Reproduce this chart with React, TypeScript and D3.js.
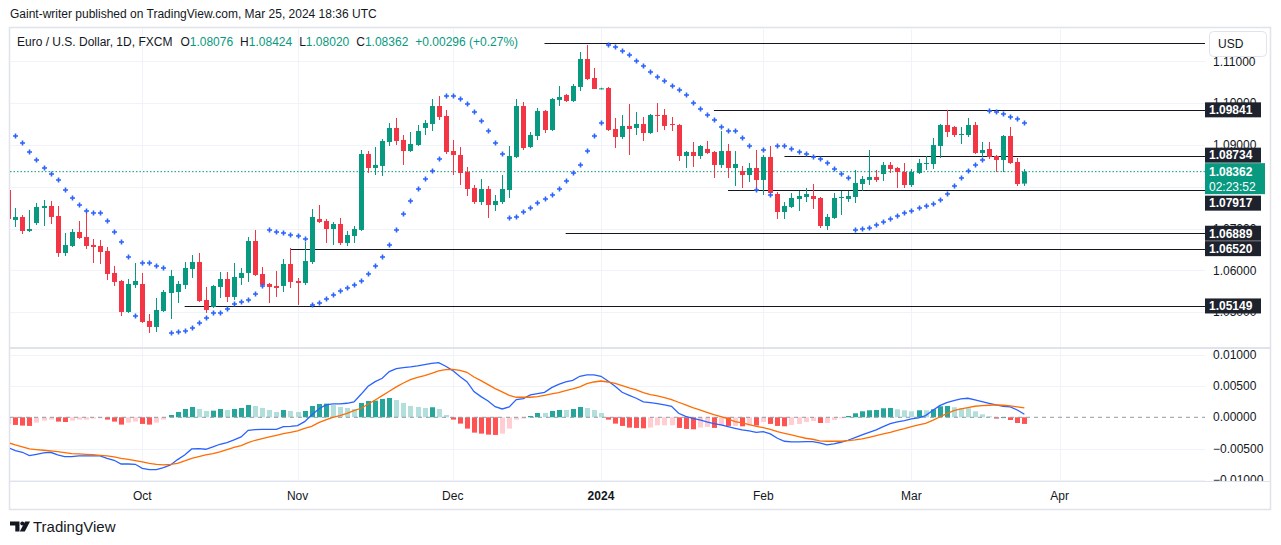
import * as d3 from "d3";

// EUR/USD daily bars from 5 Sep 2023 to 25 Mar 2024 (open, high, low, close)
const firstBarDate = "2023-09-05";
const ohlc: [number, number, number, number][] = [
  [1.07923, 1.07971, 1.07206, 1.0723],
  [1.07206, 1.07493, 1.07038, 1.07278],
  [1.07278, 1.07325, 1.06871, 1.06943],
  [1.06943, 1.07445, 1.06919, 1.0699],
  [1.07134, 1.07612, 1.07086, 1.07517],
  [1.07493, 1.07684, 1.07062, 1.07541],
  [1.07541, 1.0766, 1.0711, 1.07278],
  [1.07301, 1.07541, 1.06321, 1.06416],
  [1.06416, 1.06895, 1.06345, 1.06608],
  [1.06584, 1.0699, 1.0656, 1.06919],
  [1.06919, 1.07182, 1.06751, 1.06775],
  [1.06799, 1.07397, 1.06512, 1.06584],
  [1.06608, 1.06751, 1.06177, 1.0656],
  [1.06584, 1.06727, 1.06153, 1.0644],
  [1.06464, 1.0656, 1.0577, 1.05914],
  [1.05938, 1.06105, 1.05627, 1.05723],
  [1.05746, 1.0577, 1.04909, 1.05005],
  [1.05005, 1.05794, 1.04981, 1.05675],
  [1.05651, 1.06177, 1.05579, 1.05746],
  [1.05675, 1.05938, 1.04742, 1.04766],
  [1.0479, 1.04957, 1.04502, 1.04646],
  [1.04646, 1.0534, 1.04526, 1.05053],
  [1.05029, 1.05531, 1.05005, 1.05483],
  [1.05459, 1.0601, 1.04837, 1.05866],
  [1.05483, 1.05746, 1.0522, 1.05675],
  [1.05651, 1.06201, 1.05555, 1.06057],
  [1.06034, 1.06368, 1.05818, 1.06201],
  [1.06201, 1.06416, 1.05244, 1.05268],
  [1.05292, 1.05603, 1.04981, 1.05053],
  [1.05124, 1.05651, 1.05101, 1.05627],
  [1.05603, 1.05962, 1.0534, 1.05794],
  [1.05794, 1.05962, 1.05244, 1.05364],
  [1.05364, 1.06177, 1.05292, 1.05842],
  [1.05818, 1.06057, 1.05651, 1.05938],
  [1.05938, 1.06799, 1.05723, 1.06703],
  [1.06703, 1.06967, 1.05866, 1.0589],
  [1.05914, 1.06081, 1.05627, 1.05651],
  [1.05675, 1.05699, 1.0522, 1.05603],
  [1.05627, 1.05986, 1.05364, 1.05579],
  [1.05627, 1.06273, 1.05483, 1.06153],
  [1.06153, 1.06536, 1.05579, 1.05723],
  [1.05746, 1.05818, 1.05172, 1.05699],
  [1.05699, 1.06679, 1.05651, 1.06225],
  [1.06201, 1.07469, 1.06153, 1.07278],
  [1.0723, 1.07565, 1.07134, 1.07158],
  [1.07182, 1.0723, 1.06656, 1.0699],
  [1.0699, 1.07158, 1.06608, 1.0711],
  [1.0711, 1.07254, 1.06608, 1.06656],
  [1.06656, 1.06943, 1.06584, 1.06847],
  [1.06823, 1.07062, 1.06656, 1.0699],
  [1.06967, 1.0888, 1.06943, 1.08785],
  [1.08785, 1.08856, 1.0833, 1.0845],
  [1.0845, 1.08952, 1.08282, 1.08522],
  [1.08498, 1.09144, 1.08258, 1.09096],
  [1.09072, 1.09526, 1.08976, 1.09407],
  [1.09407, 1.09646, 1.09, 1.09096],
  [1.0912, 1.09239, 1.08522, 1.08856],
  [1.08856, 1.09311, 1.08833, 1.09024],
  [1.09, 1.09478, 1.08976, 1.09335],
  [1.09407, 1.09598, 1.09239, 1.09526],
  [1.09502, 1.101, 1.09335, 1.09933],
  [1.09933, 1.10172, 1.09598, 1.0967],
  [1.09694, 1.09838, 1.08785, 1.08833],
  [1.08856, 1.0912, 1.08282, 1.08761],
  [1.08761, 1.08952, 1.08043, 1.0833],
  [1.08354, 1.08474, 1.0778, 1.07947],
  [1.07971, 1.08043, 1.07589, 1.07636],
  [1.07636, 1.08187, 1.07565, 1.07947],
  [1.07947, 1.08019, 1.07254, 1.07565],
  [1.07565, 1.07804, 1.07421, 1.0766],
  [1.07636, 1.08282, 1.07589, 1.07947],
  [1.07923, 1.08976, 1.07732, 1.08737],
  [1.08713, 1.101, 1.08689, 1.09933],
  [1.09933, 1.10029, 1.0888, 1.08928],
  [1.08952, 1.09311, 1.08928, 1.09239],
  [1.09215, 1.09885, 1.0912, 1.09814],
  [1.09814, 1.09838, 1.09287, 1.09359],
  [1.09359, 1.10124, 1.09335, 1.101],
  [1.10077, 1.10411, 1.09933, 1.10148],
  [1.10196, 1.1022, 1.10029, 1.10053],
  [1.10053, 1.10459, 1.10029, 1.10411],
  [1.10388, 1.11225, 1.10292, 1.11057],
  [1.11057, 1.11392, 1.10555, 1.10579],
  [1.10603, 1.10842, 1.1034, 1.1034],
  [1.1034, 1.1037, 1.1033, 1.10355],
  [1.10364, 1.10388, 1.09335, 1.09359],
  [1.09383, 1.09646, 1.08928, 1.09191],
  [1.09191, 1.09718, 1.09144, 1.09455],
  [1.09455, 1.09981, 1.08761, 1.09383],
  [1.09407, 1.0979, 1.09239, 1.09502],
  [1.09502, 1.0967, 1.09096, 1.09287],
  [1.09287, 1.09742, 1.09263, 1.09718],
  [1.09718, 1.10005, 1.09311, 1.09694],
  [1.09718, 1.09861, 1.09359, 1.09455],
  [1.09502, 1.0967, 1.09335, 1.09478],
  [1.09478, 1.09502, 1.08617, 1.08737],
  [1.08737, 1.08856, 1.0845, 1.08833],
  [1.08833, 1.09072, 1.08474, 1.08737],
  [1.08737, 1.09, 1.08665, 1.08976],
  [1.08904, 1.09096, 1.08785, 1.08809],
  [1.08833, 1.08856, 1.08211, 1.08522],
  [1.08522, 1.09335, 1.0845, 1.08856],
  [1.08856, 1.09024, 1.08211, 1.0845],
  [1.0845, 1.08856, 1.08019, 1.08545],
  [1.08378, 1.08498, 1.07971, 1.08282],
  [1.08282, 1.08569, 1.08115, 1.0845],
  [1.0845, 1.0888, 1.079, 1.08163],
  [1.08163, 1.08761, 1.07804, 1.08713],
  [1.08713, 1.08976, 1.07804, 1.07852],
  [1.07828, 1.07876, 1.0723, 1.07397],
  [1.07397, 1.07636, 1.0723, 1.07541],
  [1.07517, 1.07852, 1.07493, 1.07732],
  [1.07708, 1.079, 1.07421, 1.0778],
  [1.07756, 1.07971, 1.07636, 1.07828],
  [1.0778, 1.08067, 1.07469, 1.07708],
  [1.07732, 1.07756, 1.07014, 1.07062],
  [1.07062, 1.07349, 1.06967, 1.07278],
  [1.07254, 1.07852, 1.0723, 1.07732],
  [1.07732, 1.079, 1.07325, 1.07756],
  [1.07708, 1.079, 1.07636, 1.0778],
  [1.07756, 1.08402, 1.07612, 1.08091],
  [1.08067, 1.08258, 1.079, 1.08187],
  [1.08163, 1.0888, 1.08043, 1.08234],
  [1.08234, 1.08402, 1.08115, 1.08163],
  [1.08306, 1.08593, 1.08139, 1.08522],
  [1.08522, 1.08593, 1.0833, 1.08426],
  [1.0845, 1.08474, 1.07971, 1.08354],
  [1.08354, 1.08569, 1.07971, 1.08043],
  [1.08043, 1.08426, 1.07995, 1.08354],
  [1.0833, 1.08665, 1.08306, 1.08569],
  [1.08545, 1.08737, 1.08402, 1.08569],
  [1.08545, 1.09167, 1.08426, 1.09],
  [1.08976, 1.09502, 1.08689, 1.09478],
  [1.09478, 1.09841, 1.09191, 1.09311],
  [1.09431, 1.09455, 1.09191, 1.09239],
  [1.09239, 1.09431, 1.09024, 1.09263],
  [1.09239, 1.09646, 1.09191, 1.09478],
  [1.09478, 1.0955, 1.08785, 1.08809],
  [1.08809, 1.09072, 1.08713, 1.0888],
  [1.08904, 1.09072, 1.08665, 1.08713],
  [1.08737, 1.08761, 1.08354, 1.08641],
  [1.08641, 1.09239, 1.08354, 1.09215],
  [1.09215, 1.09431, 1.08545, 1.08569],
  [1.08593, 1.08689, 1.08019, 1.08066],
  [1.08076, 1.08424, 1.0802, 1.08362],
];

// parabolic SAR dot for each bar
const sar: (number | null)[] = [
  null, 1.09215, 1.09048, 1.08833, 1.08641, 1.0845, 1.08306, 1.08163, 1.07923, 1.07732,
  1.07565, 1.07421, 1.07373, 1.07373, 1.07182, 1.06919, 1.06679, 1.06321, 1.04909, 1.06177,
  1.06177, 1.06105, 1.06057, 1.04502, 1.04526, 1.0455, 1.04622, 1.04742, 1.04861, 1.04981,
  1.04981, 1.05077, 1.05196, 1.05244, 1.05292, 1.05435, 1.05627, 1.06967, 1.06919, 1.06895,
  1.06847, 1.06823, 1.06751, 1.05172, 1.0522, 1.05316, 1.05412, 1.05507, 1.05579, 1.05651,
  1.05746, 1.05914, 1.06105, 1.06321, 1.06608, 1.06967, 1.07349, 1.0766, 1.07947, 1.08187,
  1.08378, 1.08665, 1.10172, 1.10172, 1.101, 1.09981, 1.0979, 1.09574, 1.09335, 1.09048,
  1.08785, 1.07254, 1.07278, 1.07397, 1.07493, 1.07612, 1.07708, 1.07804, 1.07947, 1.08139,
  1.0833, 1.08522, 1.08856, 1.09215, 1.09526, 1.11392, 1.11344, 1.11249, 1.11153, 1.1101,
  1.1089, 1.10746, 1.10627, 1.10531, 1.10411, 1.10316, 1.10196, 1.10005, 1.09861, 1.09718,
  1.09598, 1.09431, 1.09335, 1.09335, 1.09167, 1.08976, 1.07923, 1.0888, 1.07804, 1.08976,
  1.08976, 1.08904, 1.08833, 1.08785, 1.08713, 1.08665, 1.08569, 1.08426, 1.08306, 1.08211,
  1.06967, 1.0699, 1.07014, 1.07086, 1.07158, 1.0723, 1.07301, 1.07373, 1.07421, 1.07493,
  1.07541, 1.07589, 1.07684, 1.07828, 1.08019, 1.08211, 1.08378, 1.08522, 1.08641, 1.09814,
  1.0979, 1.09742, 1.0967, 1.09622, 1.09526,
];

// MACD (12, 26, 9)
const macdLine = [
  -0.00485, -0.00533, -0.00559, -0.00612, -0.00591, -0.0057, -0.00559, -0.00602, -0.00628, -0.00628,
  -0.00618, -0.00618, -0.00618, -0.00618, -0.00655, -0.00687, -0.00746, -0.00746, -0.00751, -0.00815,
  -0.00836, -0.00836, -0.00804, -0.00761, -0.00676, -0.00602, -0.00506, -0.00501, -0.00511, -0.00474,
  -0.00431, -0.00405, -0.00362, -0.00314, -0.00208, -0.00197, -0.00192, -0.00192, -0.00192, -0.00149,
  -0.00144, -0.00133, -0.00069, 0.00037, 0.00133, 0.00197, 0.00213, 0.00213, 0.00224, 0.00245,
  0.00367, 0.00495, 0.0057, 0.00623, 0.0073, 0.00777, 0.00793, 0.00804, 0.0082, 0.00841,
  0.00863, 0.00873, 0.00815, 0.00746, 0.0065, 0.0057, 0.0041, 0.0033, 0.00261, 0.0017,
  0.00133, 0.00165, 0.00282, 0.00298, 0.00357, 0.00378, 0.00399, 0.00474, 0.00527, 0.00564,
  0.00591, 0.00655, 0.00676, 0.00676, 0.00655, 0.0058, 0.00495, 0.00399, 0.00351, 0.00304,
  0.00245, 0.00234, 0.00218, 0.00197, 0.00176, 0.00064, 0.00016, -0.00016, -0.00043, -0.00075,
  -0.00101, -0.00122, -0.00149, -0.00176, -0.00202, -0.00218, -0.0024, -0.00229, -0.00266, -0.00335,
  -0.00383, -0.00394, -0.00394, -0.00389, -0.00389, -0.0041, -0.00442, -0.00426, -0.00399, -0.00367,
  -0.00325, -0.00282, -0.0024, -0.00202, -0.00149, -0.00101, -0.00075, -0.00053, -0.00027, -0.00011,
  0.00027, 0.00107, 0.00186, 0.00234, 0.00266, 0.00293, 0.00304, 0.00277, 0.0025, 0.00224,
  0.00197, 0.00176, 0.00165, 0.00117, 0.00048,
];
const signalLine = [
  -0.00405, -0.00442, -0.00474, -0.00506, -0.00517, -0.00527, -0.00538, -0.00548, -0.00564, -0.0058,
  -0.00586, -0.00591, -0.00596, -0.00607, -0.00618, -0.00634, -0.00655, -0.00671, -0.00692, -0.00714,
  -0.00735, -0.00751, -0.00761, -0.00751, -0.00735, -0.00698, -0.00655, -0.00628, -0.00602, -0.0058,
  -0.00554, -0.00517, -0.00479, -0.00453, -0.00405, -0.00367, -0.00341, -0.00314, -0.00288, -0.00261,
  -0.0024, -0.00218, -0.00176, -0.00144, -0.00085, -0.00043, 0.0, 0.00027, 0.00064, 0.00107,
  0.00144, 0.00208, 0.00277, 0.00346, 0.00415, 0.00485, 0.00548, 0.00602, 0.00639, 0.00666,
  0.00703, 0.0074, 0.00761, 0.00767, 0.00751, 0.00719, 0.00644, 0.00586, 0.00522, 0.00458,
  0.00405, 0.00351, 0.0032, 0.0032, 0.0032, 0.0033, 0.00351, 0.00373, 0.00394, 0.00426,
  0.00453, 0.00485, 0.00538, 0.00564, 0.0058, 0.00564, 0.00543, 0.00506, 0.00469, 0.00437,
  0.00394, 0.00362, 0.00341, 0.00314, 0.00282, 0.0024, 0.00197, 0.00154, 0.00117, 0.0008,
  0.00043, 0.00011, -0.00027, -0.00069, -0.00091, -0.00117, -0.00144, -0.00165, -0.00192, -0.00229,
  -0.00256, -0.00282, -0.00309, -0.00335, -0.00351, -0.00378, -0.00383, -0.00383, -0.00383, -0.00373,
  -0.00362, -0.00346, -0.0032, -0.00293, -0.00266, -0.0024, -0.00208, -0.00181, -0.00149, -0.00122,
  -0.00096, -0.00048, 0.00005, 0.00059, 0.00107, 0.00133, 0.00154, 0.00176, 0.00186, 0.00192,
  0.00197, 0.00192, 0.00181, 0.00165, 0.00149,
];
const histogram = [
  -0.0011, -0.00122, -0.00133, -0.00138, -0.00085, -0.00053, -0.00037, -0.00069, -0.00075, -0.00053,
  -0.00037, -0.00037, -0.00021, -0.00016, -0.00037, -0.00069, -0.00117, -0.00085, -0.00069, -0.00106,
  -0.00117, -0.00085, -0.00037, 0.00037, 0.00085, 0.00133, 0.00165, 0.00133, 0.00101, 0.00106,
  0.00133, 0.00117, 0.00133, 0.00149, 0.00197, 0.00181, 0.00149, 0.00117, 0.00085, 0.00117,
  0.00101, 0.00085, 0.00101, 0.00181, 0.00213, 0.00218, 0.00197, 0.00165, 0.00149, 0.00133,
  0.00229, 0.00261, 0.00266, 0.00293, 0.00309, 0.00277, 0.00229, 0.00181, 0.00165, 0.00149,
  0.0016, 0.00133, 0.00037, -0.00037, -0.00101, -0.00181, -0.00245, -0.00261, -0.00277, -0.00282,
  -0.00261, -0.00181, -0.00037, -0.00021, 0.00021, 0.00069, 0.00069, 0.00101, 0.00117, 0.00117,
  0.00133, 0.00165, 0.00149, 0.00117, 0.00069, -0.00037, -0.00101, -0.00138, -0.00165, -0.0017,
  -0.00176, -0.00165, -0.00128, -0.00128, -0.00128, -0.0017, -0.00186, -0.00192, -0.00165, -0.00154,
  -0.0017, -0.00128, -0.00138, -0.00138, -0.00144, -0.00128, -0.00133, -0.00075, -0.00106, -0.00138,
  -0.00144, -0.00122, -0.00106, -0.00075, -0.00059, -0.00091, -0.00091, -0.00043, -0.00016, 0.00021,
  0.00064, 0.00096, 0.00112, 0.00117, 0.00144, 0.00149, 0.00128, 0.00112, 0.00096, 0.00112,
  0.00112, 0.00128, 0.00176, 0.00181, 0.0016, 0.00144, 0.00144, 0.00096, 0.00048, 0.00016,
  -0.00021, 0.00003, -0.00043, -0.00091, -0.00106,
];

// horizontal levels drawn by the author
const levelPrices = [1.1143, 1.09841, 1.08734, 1.07917, 1.06889, 1.0652, 1.05149];
const levelStarts = ["2023-12-20", "2024-01-23", "2024-02-06", "2024-01-25", "2023-12-25", "2023-10-31", "2023-10-10"];
const levelLabelled = [false, true, true, true, true, true, true];

const priceTicks = [1.05, 1.06, 1.07, 1.08, 1.09, 1.1, 1.11];
const macdTicks = [0.01, 0.005, 0, -0.005, -0.01];
const monthTickDates = ["2023-10-02", "2023-11-01", "2023-12-01", "2024-01-01", "2024-02-01", "2024-03-01", "2024-04-01"];
const monthTickLabels = ["Oct", "Nov", "Dec", "2024", "Feb", "Mar", "Apr"];
const countdown = "02:23:52";

const UP = "#089981";
const DOWN = "#f23645";
const TXT = "#131722";
const GRID = "#f0f3fa";
const BORDER = "#e0e3eb";
const FONT = "'Liberation Sans', Arial, sans-serif";

const fmt = d3.timeFormat("%Y-%m-%d");
const days = d3.timeDay
  .range(d3.timeParse("%Y-%m-%d")(firstBarDate)!, new Date(2024, 4, 1))
  .filter((d) => d.getDay() !== 0 && d.getDay() !== 6);
const barOf = (s: string) => days.findIndex((d) => fmt(d) === s);

const L = 10;
const R = 1205;
const PT = 29;
const PB = 347;
const MT = 349;
const MB = 481;

const x = d3.scaleLinear().domain([0.249, 169.6]).range([L, R]);
const y = d3.scaleLinear().domain([1.04167, 1.11775]).range([PB, PT]);
const ym = d3.scaleLinear().domain([-0.01018, 0.01091]).range([MB, MT]);

const histColor = (v: number, i: number) => {
  const prev = i > 0 ? histogram[i - 1] : v;
  if (v >= 0) return v > prev ? "#26a69a" : "#b2dfdb";
  return v < prev ? "#ff5252" : "#ffcdd2";
};

export default function App() {
  const cx = (k: number) => Math.round(x(k)) + 0.5;
  const last = ohlc[ohlc.length - 1];
  const prevClose = ohlc[ohlc.length - 2][3];
  const change = last[3] - prevClose;
  const lastY = y(last[3]);

  const macdPath = d3.line<number>().x((_, k) => x(k)).y((v) => ym(v))(macdLine)!;
  const signalPath = d3.line<number>().x((_, k) => x(k)).y((v) => ym(v))(signalLine)!;

  // price-scale labels: levels get pushed clear of the live price badge
  const badgeTop = lastY - 8.5;
  const badgeBot = badgeTop + 31;
  const levelLabels = levelPrices
    .map((p, i) => ({ p, show: levelLabelled[i], c: y(p) }))
    .filter((d) => d.show)
    .map((d) => {
      let c = d.c;
      if (c + 7.5 > badgeTop && c - 7.5 < badgeBot) {
        c = c < lastY ? badgeTop - 8 : badgeBot + 9;
      }
      return { ...d, c };
    });

  const monthX = monthTickDates.map((s) => x(barOf(s)));

  return (
    <svg
      width={1281}
      height={545}
      style={{ position: "absolute", left: 0, top: 0, background: "#fff" }}
      fontFamily={FONT}
    >
      <defs>
        <clipPath id="pricePane">
          <rect x={L} y={PT} width={R - L} height={PB - PT} />
        </clipPath>
        <clipPath id="macdPane">
          <rect x={L} y={MT} width={R - L} height={MB - MT} />
        </clipPath>
        <clipPath id="macdAxis">
          <rect x={R} y={MT} width={70} height={MB - MT} />
        </clipPath>
      </defs>

      <text x={10} y={18} fontSize={12} fill={TXT}>
        Gaint-writer published on TradingView.com, Mar 25, 2024 18:36 UTC
      </text>

      {/* frame */}
      <rect x={9.5} y={27.5} width={1261} height={482} fill="none" stroke={BORDER} strokeWidth={1.5} />
      <line x1={L} x2={1270} y1={348} y2={348} stroke={BORDER} strokeWidth={2} />
      <line x1={L} x2={1270} y1={MB + 0.5} y2={MB + 0.5} stroke={BORDER} />

      {/* grid */}
      {priceTicks.map((t) => (
        <line key={t} x1={L} x2={R} y1={Math.round(y(t)) + 0.5} y2={Math.round(y(t)) + 0.5} stroke={GRID} />
      ))}
      {macdTicks.filter((t) => t !== 0).map((t) => (
        <line key={t} x1={L} x2={R} y1={Math.round(ym(t)) + 0.5} y2={Math.round(ym(t)) + 0.5} stroke={GRID} />
      ))}
      {monthX.map((mx, i) => (
        <g key={i}>
          <line x1={Math.round(mx) + 0.5} x2={Math.round(mx) + 0.5} y1={PT} y2={PB} stroke={GRID} />
          <line x1={Math.round(mx) + 0.5} x2={Math.round(mx) + 0.5} y1={MT} y2={MB} stroke={GRID} />
        </g>
      ))}

      {/* price pane */}
      <g clipPath="url(#pricePane)">
        <line x1={L} x2={R} y1={lastY} y2={lastY} stroke={UP} strokeDasharray="1.5 2" />
        {levelPrices.map((p, i) => (
          <line
            key={p}
            x1={x(barOf(levelStarts[i]))}
            x2={R}
            y1={Math.round(y(p)) + 0.5}
            y2={Math.round(y(p)) + 0.5}
            stroke={TXT}
            strokeWidth={1.2}
          />
        ))}
        {ohlc.map(([o, h, l, c], k) => {
          const col = c >= o ? UP : DOWN;
          const top = Math.min(y(o), y(c));
          const hgt = Math.max(1, Math.abs(y(o) - y(c)));
          return (
            <g key={k}>
              <line x1={cx(k)} x2={cx(k)} y1={y(h)} y2={y(l)} stroke={col} strokeWidth={1} />
              <rect x={cx(k) - 2.5} y={top} width={5} height={hgt} fill={col} />
            </g>
          );
        })}
        {sar.map((v, k) =>
          v == null ? null : (
            <path
              key={k}
              d={`M${cx(k) - 2.5},${y(v)}H${cx(k) + 2.5}M${cx(k)},${y(v) - 2.5}V${y(v) + 2.5}`}
              stroke="#2962ff"
              strokeWidth={1.6}
            />
          )
        )}
      </g>

      {/* MACD pane */}
      <g clipPath="url(#macdPane)">
        {histogram.map((v, k) => (
          <rect
            key={k}
            x={cx(k) - 2.5}
            y={Math.min(ym(v), ym(0))}
            width={5}
            height={Math.max(1, Math.abs(ym(v) - ym(0)))}
            fill={histColor(v, k)}
          />
        ))}
        <line x1={L} x2={R} y1={ym(0)} y2={ym(0)} stroke="#9598a1" strokeDasharray="4 4" />
        <path d={macdPath} fill="none" stroke="#2962ff" strokeWidth={1.3} />
        <path d={signalPath} fill="none" stroke="#ff6d00" strokeWidth={1.3} />
      </g>

      {/* price scale */}
      {priceTicks.map((t) => (
        <text key={t} x={1213} y={y(t)} dy="0.35em" fontSize={12} fill={TXT}>
          {t.toFixed(5)}
        </text>
      ))}
      {levelLabels.map((d) => (
        <g key={d.p}>
          <rect x={R} y={d.c - 7.5} width={56} height={15} fill="#1e222d" />
          <text x={1209} y={d.c} dy="0.36em" fontSize={12} fontWeight={600} fill="#fff">
            {d.p.toFixed(5)}
          </text>
        </g>
      ))}
      <rect x={R} y={badgeTop} width={60} height={31} fill={UP} />
      <text x={1209} y={lastY} dy="0.35em" fontSize={12} fontWeight={600} fill="#fff">
        {last[3].toFixed(5)}
      </text>
      <text x={1209} y={lastY + 15} dy="0.35em" fontSize={12} fill="#fff">
        {countdown}
      </text>
      <rect x={1209.5} y={31.5} width={57} height={25} rx={4} fill="#fff" stroke={BORDER} />
      <text x={1218} y={44} dy="0.35em" fontSize={12} fill={TXT}>
        USD
      </text>

      {/* MACD scale */}
      <g clipPath="url(#macdAxis)">
        {macdTicks.map((t) => (
          <text key={t} x={1213} y={ym(t)} dy="0.35em" fontSize={12} fill={TXT}>
            {t < 0 ? "\u2212" + Math.abs(t).toFixed(5) : t.toFixed(5)}
          </text>
        ))}
      </g>

      {/* time scale */}
      {monthTickLabels.map((lab, i) => (
        <text
          key={lab}
          x={monthX[i]}
          y={496}
          dy="0.35em"
          textAnchor="middle"
          fontSize={12}
          fontWeight={lab === "2024" ? 700 : 400}
          fill={TXT}
        >
          {lab}
        </text>
      ))}

      {/* legend */}
      <text x={17} y={42} dy="0.35em" fontSize={12} fill={TXT}>
        Euro / U.S. Dollar, 1D, FXCM
        <tspan dx={8}>O</tspan>
        <tspan fill={UP}>{last[0].toFixed(5)}</tspan>
        <tspan dx={7}>H</tspan>
        <tspan fill={UP}>{last[1].toFixed(5)}</tspan>
        <tspan dx={7}>L</tspan>
        <tspan fill={UP}>{last[2].toFixed(5)}</tspan>
        <tspan dx={7}>C</tspan>
        <tspan fill={UP}>{last[3].toFixed(5)}</tspan>
        <tspan dx={7} fill={UP}>
          {(change >= 0 ? "+" : "") + change.toFixed(5)} ({(change >= 0 ? "+" : "") + ((change / prevClose) * 100).toFixed(2)}%)
        </tspan>
      </text>

      {/* TradingView logo */}
      <path d="M10,521.5h9.5v10h-4.2v-6h-5.3z" fill={TXT} />
      <circle cx={22.3} cy={523.6} r={2} fill={TXT} />
      <path d="M25,521.5h5l-5.2,10h-5z" fill={TXT} />
      <text x={33} y={531.5} fontSize={15} fill={TXT}>
        TradingView
      </text>
    </svg>
  );
}
